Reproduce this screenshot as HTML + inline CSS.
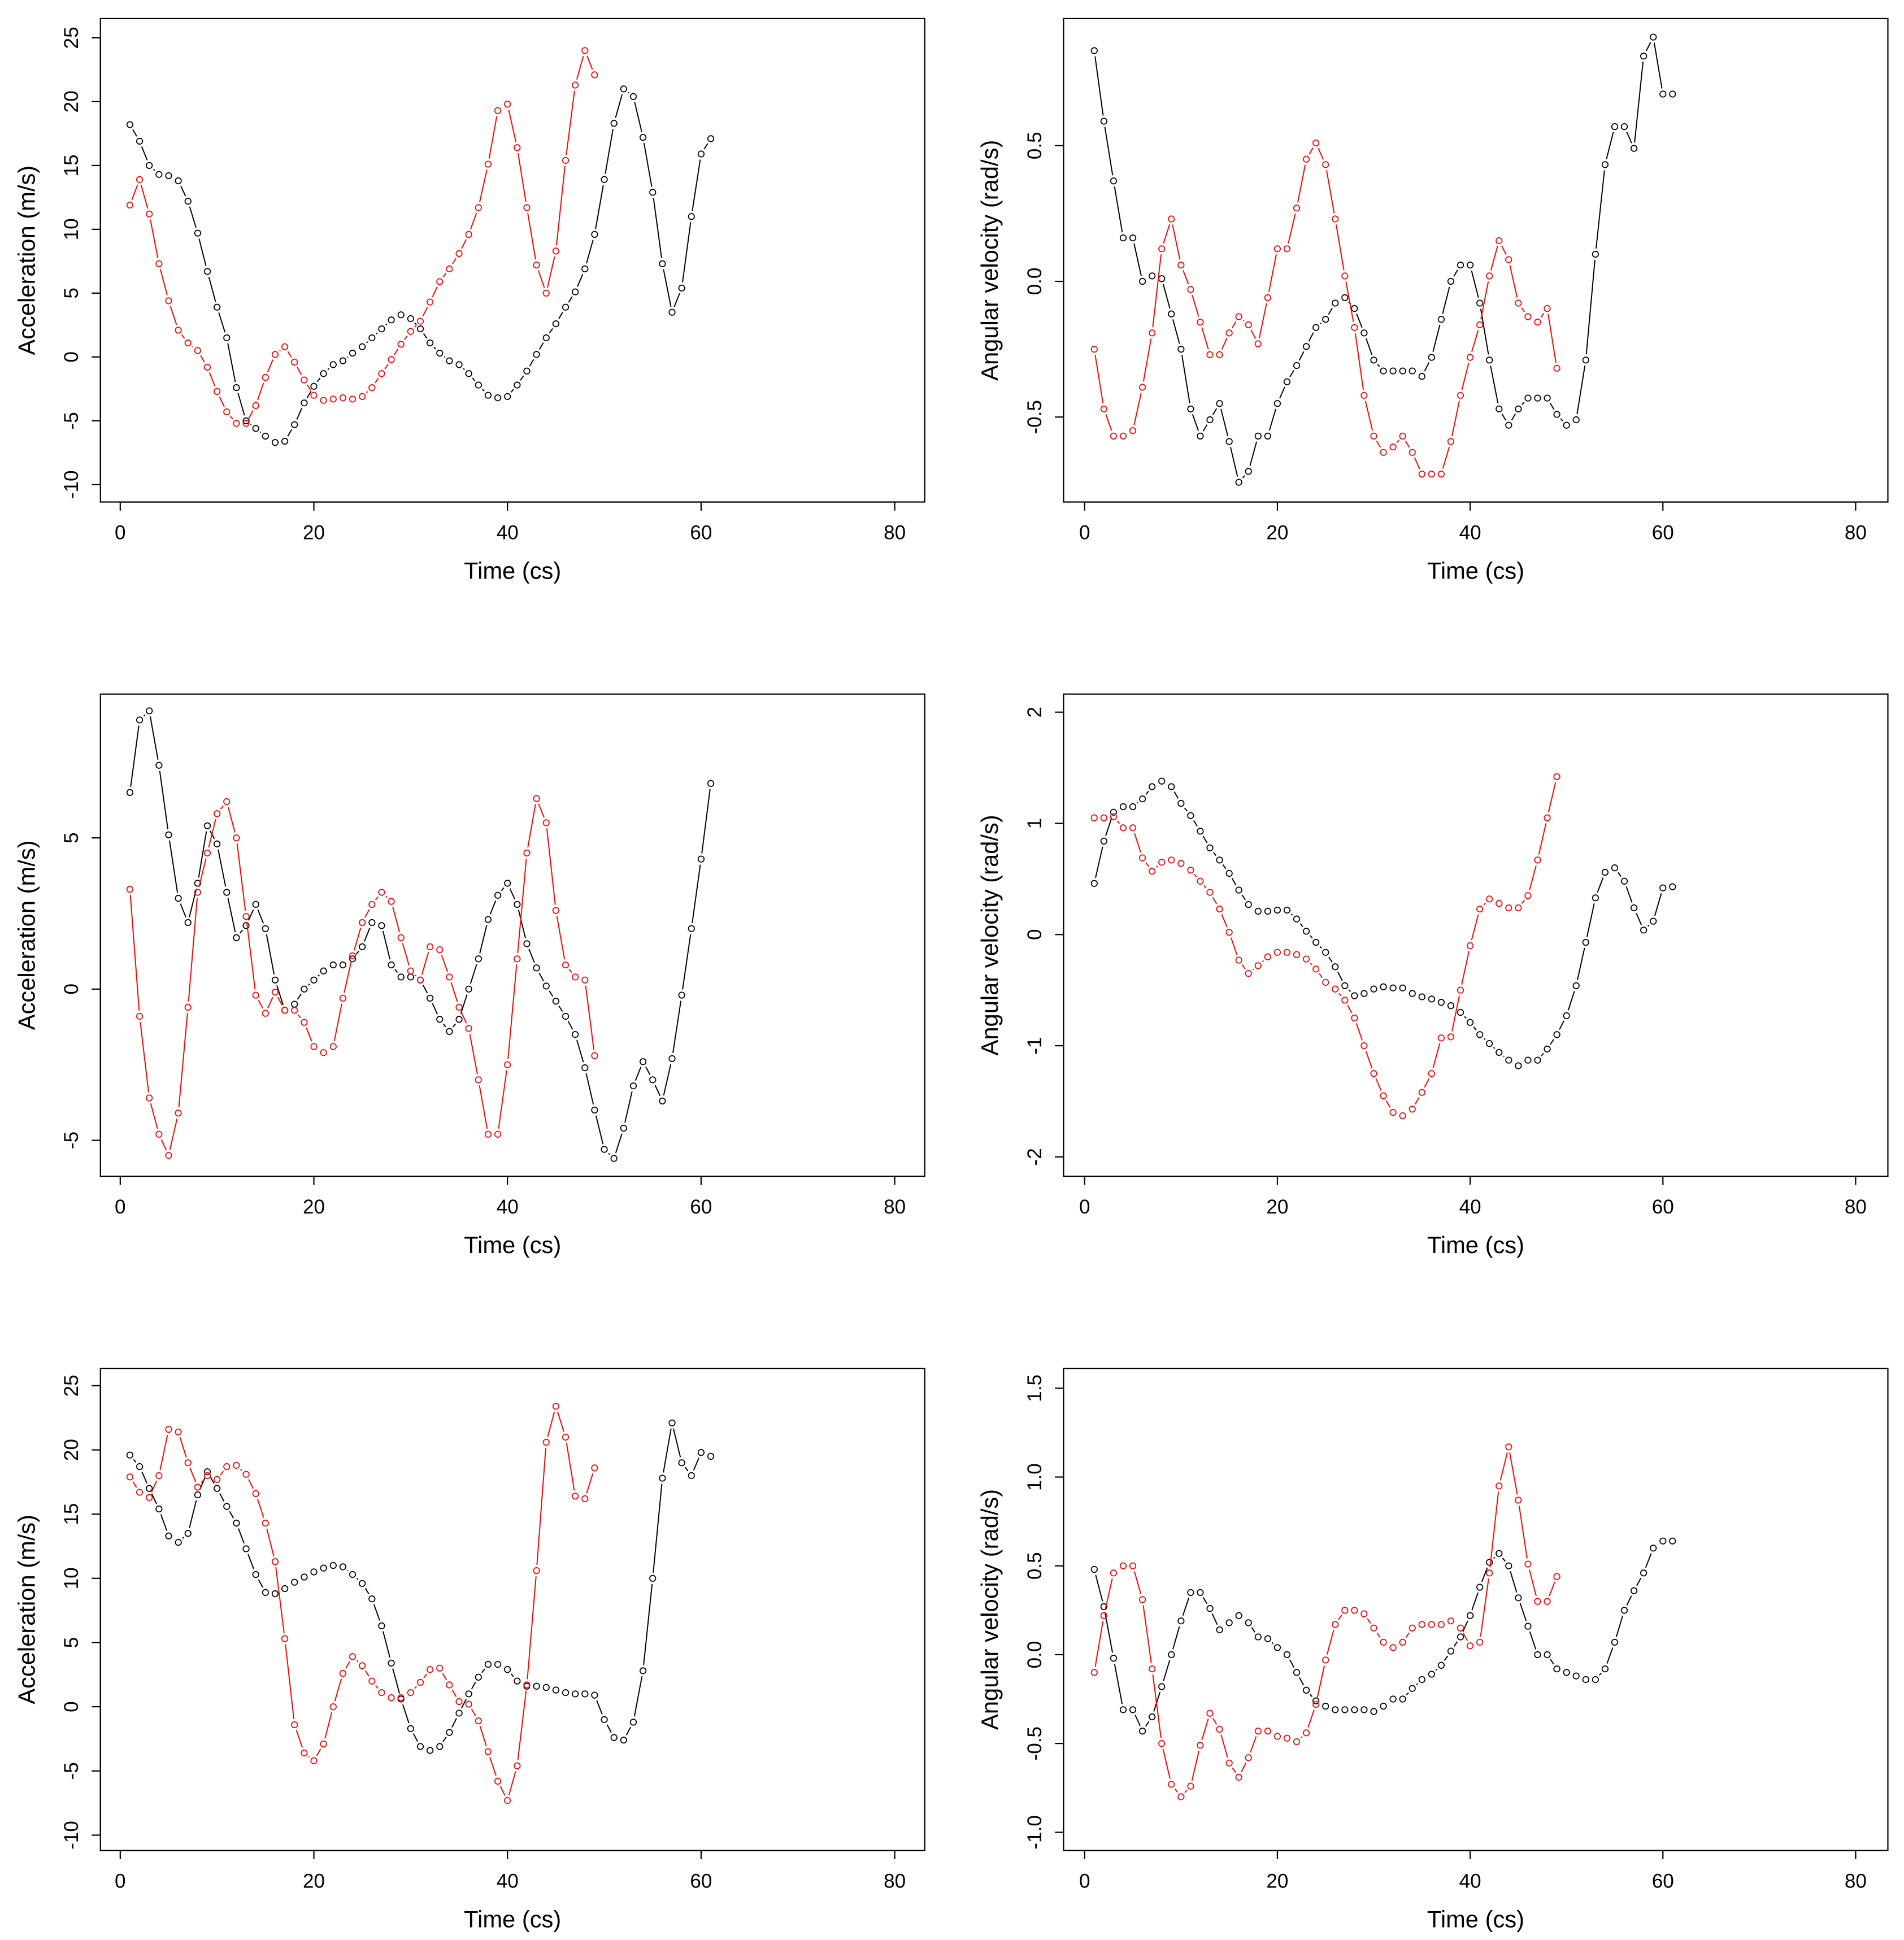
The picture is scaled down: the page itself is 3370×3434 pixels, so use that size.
<!DOCTYPE html>
<html><head><meta charset="utf-8">
<style>
html,body{margin:0;padding:0;background:#fff;}
svg{display:block;}
text{font-family:"Liberation Sans",Arial,sans-serif;fill:#000;}
</style></head>
<body>
<svg id="fig" width="3370" height="3434" viewBox="0 0 1536 1565.2" preserveAspectRatio="none" xmlns="http://www.w3.org/2000/svg"></svg>
<script>
// ---------- Data ----------
const p1Black=[18.2,16.9,15,14.3,14.2,13.8,12.2,9.7,6.7,3.9,1.5,-2.4,-5,-5.6,-6.2,-6.7,-6.6,-5.3,-3.6,-2.3,-1.3,-0.6,-0.3,0.3,0.8,1.5,2.2,2.9,3.3,3,2.2,1.1,0.3,-0.3,-0.6,-1.3,-2.2,-3,-3.2,-3.1,-2.2,-1.1,0.2,1.5,2.6,3.9,5.1,6.9,9.6,13.9,18.3,21,20.4,17.2,12.9,7.3,3.5,5.4,11,15.9,17.1];
const p1Red=[11.9,13.9,11.2,7.3,4.4,2.1,1.1,0.5,-0.8,-2.7,-4.3,-5.2,-5.2,-3.8,-1.6,0.2,0.8,-0.4,-1.8,-3,-3.4,-3.3,-3.2,-3.3,-3.1,-2.4,-1.3,-0.2,1,2,2.8,4.3,5.9,6.9,8.1,9.6,11.7,15.1,19.3,19.8,16.4,11.7,7.2,5,8.3,15.4,21.3,24,22.1];
const p2Black=[0.85,0.59,0.37,0.16,0.16,0.0,0.02,0.01,-0.12,-0.25,-0.47,-0.57,-0.51,-0.45,-0.59,-0.74,-0.7,-0.57,-0.57,-0.45,-0.37,-0.31,-0.24,-0.17,-0.14,-0.08,-0.06,-0.1,-0.19,-0.29,-0.33,-0.33,-0.33,-0.33,-0.35,-0.28,-0.14,0.0,0.06,0.06,-0.08,-0.29,-0.47,-0.53,-0.47,-0.43,-0.43,-0.43,-0.49,-0.53,-0.51,-0.29,0.1,0.43,0.57,0.57,0.49,0.83,0.9,0.69,0.69];
const p2Red=[-0.25,-0.47,-0.57,-0.57,-0.55,-0.39,-0.19,0.12,0.23,0.06,-0.03,-0.15,-0.27,-0.27,-0.19,-0.13,-0.16,-0.23,-0.06,0.12,0.12,0.27,0.45,0.51,0.43,0.23,0.02,-0.17,-0.42,-0.57,-0.63,-0.61,-0.57,-0.63,-0.71,-0.71,-0.71,-0.59,-0.42,-0.28,-0.16,0.02,0.15,0.08,-0.08,-0.13,-0.15,-0.1,-0.32];
const p3Black=[6.5,8.9,9.2,7.4,5.1,3.0,2.2,3.5,5.4,4.8,3.2,1.7,2.1,2.8,2,0.3,-0.7,-0.5,0,0.3,0.6,0.8,0.8,1.0,1.4,2.2,2.1,0.8,0.4,0.4,0.3,-0.3,-1,-1.4,-1,0,1,2.3,3.1,3.5,2.8,1.5,0.7,0.1,-0.4,-0.9,-1.5,-2.6,-4,-5.3,-5.6,-4.6,-3.2,-2.4,-3,-3.7,-2.3,-0.2,2,4.3,6.8];
const p3Red=[3.3,-0.9,-3.6,-4.8,-5.5,-4.1,-0.6,3.2,4.5,5.8,6.2,5,2.4,-0.2,-0.8,-0.1,-0.7,-0.7,-1.1,-1.9,-2.1,-1.9,-0.3,1.1,2.2,2.8,3.2,2.9,1.7,0.6,0.3,1.4,1.3,0.4,-0.6,-1.3,-3,-4.8,-4.8,-2.5,1,4.5,6.3,5.5,2.6,0.8,0.4,0.3,-2.2];
const p4Black=[0.46,0.84,1.1,1.15,1.15,1.22,1.33,1.38,1.33,1.18,1.07,0.93,0.78,0.67,0.55,0.4,0.27,0.21,0.21,0.22,0.22,0.14,0.03,-0.07,-0.16,-0.29,-0.46,-0.55,-0.53,-0.49,-0.47,-0.48,-0.48,-0.53,-0.56,-0.58,-0.61,-0.64,-0.7,-0.79,-0.9,-0.98,-1.06,-1.13,-1.18,-1.13,-1.13,-1.03,-0.9,-0.73,-0.46,-0.07,0.33,0.56,0.6,0.48,0.24,0.04,0.12,0.42,0.43];
const p4Red=[1.05,1.05,1.06,0.96,0.96,0.69,0.57,0.65,0.67,0.64,0.58,0.48,0.38,0.23,0.02,-0.23,-0.35,-0.28,-0.2,-0.16,-0.16,-0.18,-0.22,-0.31,-0.43,-0.49,-0.59,-0.75,-1.0,-1.25,-1.45,-1.6,-1.63,-1.57,-1.42,-1.25,-0.93,-0.92,-0.5,-0.1,0.23,0.32,0.28,0.24,0.24,0.35,0.67,1.05,1.42];
const p5Black=[19.6,18.7,17,15.4,13.3,12.8,13.5,16.5,18.3,17,15.6,14.3,12.3,10.3,8.9,8.8,9.2,9.7,10.1,10.5,10.8,11,10.9,10.3,9.6,8.4,6.3,3.4,0.6,-1.7,-3.1,-3.4,-3.1,-2,-0.5,1,2.3,3.3,3.3,2.9,2,1.6,1.6,1.5,1.3,1.1,1,1,0.9,-1,-2.4,-2.6,-1.2,2.8,10,17.8,22.1,19,18,19.8,19.5];
const p5Red=[17.9,16.7,16.3,18,21.6,21.4,19,17.1,18,17.7,18.7,18.8,18.1,16.6,14.3,11.3,5.3,-1.4,-3.6,-4.2,-2.9,0,2.6,3.9,3.2,2,1.1,0.7,0.7,1.1,1.9,2.9,3,1.7,0.4,0.2,-1.1,-3.5,-5.8,-7.3,-4.6,1.7,10.6,20.6,23.4,21,16.4,16.2,18.6];
const p6Black=[0.48,0.27,-0.02,-0.31,-0.31,-0.43,-0.35,-0.18,0,0.19,0.35,0.35,0.26,0.14,0.18,0.22,0.18,0.1,0.09,0.04,0.0,-0.1,-0.2,-0.26,-0.29,-0.31,-0.31,-0.31,-0.31,-0.32,-0.29,-0.25,-0.25,-0.19,-0.14,-0.11,-0.06,0.02,0.1,0.22,0.38,0.52,0.57,0.5,0.32,0.16,0.0,0.0,-0.08,-0.1,-0.12,-0.14,-0.14,-0.08,0.07,0.25,0.36,0.46,0.6,0.64,0.64];
const p6Red=[-0.1,0.22,0.46,0.5,0.5,0.31,-0.08,-0.5,-0.73,-0.8,-0.74,-0.51,-0.33,-0.42,-0.61,-0.69,-0.58,-0.43,-0.43,-0.46,-0.47,-0.49,-0.44,-0.28,-0.03,0.17,0.25,0.25,0.23,0.15,0.07,0.04,0.07,0.15,0.17,0.17,0.17,0.19,0.15,0.05,0.07,0.46,0.95,1.17,0.87,0.51,0.3,0.3,0.44];
const xTicks=[0,20,40,60,80];
const yTicksAcc=[-10,-5,0,5,10,15,20,25];
const yTicks2=[-0.5,0,0.5];
const yTicks3=[-5,0,5];
const yTicks4=[-2,-1,0,1,2];
const yTicks6=[-1,-0.5,0,0.5,1,1.5];

// ---------- Layout ----------
const NS="http://www.w3.org/2000/svg";
const svg=document.getElementById('fig');
function mk(tag,attrs,parent){const e=document.createElementNS(NS,tag);for(const k in attrs)e.setAttribute(k,attrs[k]);(parent||svg).appendChild(e);return e;}

const panels=[
 {name:'accel-panel-1',left:81,x0:97,xk:7.81,top:15,bottom:405,zero:288,k:10.3,ticks:yTicksAcc,fmt:v=>String(v),ylab:'Acceleration (m/s)',black:p1Black,red:p1Red},
 {name:'angvel-panel-1',left:858,x0:875,xk:7.775,top:15,bottom:405,zero:227,k:219,ticks:yTicks2,fmt:v=>v.toFixed(1),ylab:'Angular velocity (rad/s)',black:p2Black,red:p2Red},
 {name:'accel-panel-2',left:81,x0:97,xk:7.81,top:560,bottom:949,zero:798,k:24.4,ticks:yTicks3,fmt:v=>String(v),ylab:'Acceleration (m/s)',black:p3Black,red:p3Red},
 {name:'angvel-panel-2',left:858,x0:875,xk:7.775,top:560,bottom:949,zero:754,k:89.7,ticks:yTicks4,fmt:v=>String(v),ylab:'Angular velocity (rad/s)',black:p4Black,red:p4Red},
 {name:'accel-panel-3',left:81,x0:97,xk:7.81,top:1104,bottom:1493,zero:1377,k:10.36,ticks:yTicksAcc,fmt:v=>String(v),ylab:'Acceleration (m/s)',black:p5Black,red:p5Red},
 {name:'angvel-panel-3',left:858,x0:875,xk:7.775,top:1104,bottom:1493,zero:1335,k:143.3,ticks:yTicks6,fmt:v=>v.toFixed(1),ylab:'Angular velocity (rad/s)',black:p6Black,red:p6Red}
];
const W=665;

panels.forEach(p=>{
  const g=mk('g',{});
  
  
  const xS=v=>p.x0+v*p.xk;
  const yS=v=>p.zero-v*p.k;
  const box=mk('rect',{x:p.left,y:p.top,width:W,height:p.bottom-p.top,fill:'none',stroke:'#000','stroke-width':1},g);
  
  
  const xa=mk('g',{},g);
  
  
  mk('line',{x1:xS(xTicks[0]),x2:xS(xTicks[xTicks.length-1]),y1:p.bottom,y2:p.bottom,stroke:'#000','stroke-width':1},xa);
  xTicks.forEach(t=>{
    mk('line',{x1:xS(t),x2:xS(t),y1:p.bottom,y2:p.bottom+7,stroke:'#000','stroke-width':1},xa);
    const tx=mk('text',{x:xS(t),y:p.bottom+30,'font-size':16,'text-anchor':'middle'},xa);
    tx.textContent=t;
    
    
  });
  const xt=mk('text',{x:p.left+W/2,y:p.bottom+62,'font-size':19,'text-anchor':'middle'},g);
  xt.textContent='Time (cs)';
  
  
  const ya=mk('g',{},g);
  
  
  const t0=p.ticks[0],t1=p.ticks[p.ticks.length-1];
  mk('line',{x1:p.left,x2:p.left,y1:yS(t0),y2:yS(t1),stroke:'#000','stroke-width':1},ya);
  p.ticks.forEach(t=>{
    mk('line',{x1:p.left,x2:p.left-7,y1:yS(t),y2:yS(t),stroke:'#000','stroke-width':1},ya);
    const lx=p.left-18, ly=yS(t);
    const tx=mk('text',{x:lx,y:ly,'font-size':16,'text-anchor':'middle',transform:`rotate(-90 ${lx} ${ly})`},ya);
    tx.textContent=p.fmt(t);
    
    
  });
  const yx=p.left-53, yy=(p.top+p.bottom)/2;
  const yt=mk('text',{x:yx,y:yy,'font-size':19,'text-anchor':'middle',transform:`rotate(-90 ${yx} ${yy})`},g);
  yt.textContent=p.ylab;
  
  
  [['black','#000',p.black],['red','#ff0000',p.red]].forEach(([nm,col,arr])=>{
    const sg=mk('g',{},g);
    
    
    const pts=arr.map((v,i)=>[xS(i+1),yS(v)]);
    const gap=4.6;
    for(let i=0;i<pts.length-1;i++){
      const [x1,y1]=pts[i],[x2,y2]=pts[i+1];
      const dx=x2-x1,dy=y2-y1,L=Math.hypot(dx,dy);
      if(L<=2*gap+0.5)continue;
      const ux=dx/L,uy=dy/L;
      mk('line',{x1:x1+ux*gap,y1:y1+uy*gap,x2:x2-ux*gap,y2:y2-uy*gap,stroke:col,'stroke-width':0.9},sg);
    }
    pts.forEach(([x,y])=>{
      const c=mk('circle',{cx:x,cy:y,r:2.4,fill:'none',stroke:col,'stroke-width':0.8},sg);
      
      
    });
  });
});
</script>
</body></html>
